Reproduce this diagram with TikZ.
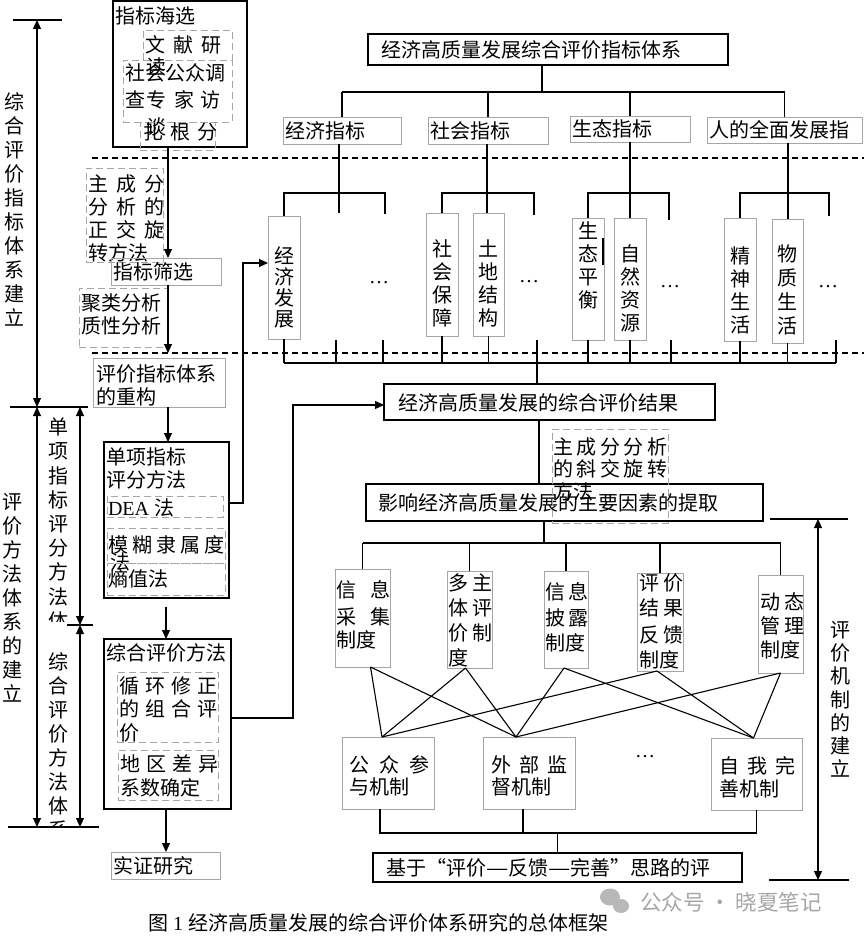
\documentclass[tikz,border=0pt]{standalone}
\usepackage{fontspec}
\setmainfont{Noto Sans CJK SC}
\newfontfamily\tnr{Liberation Serif}
\usetikzlibrary{arrows.meta,fit}
\newcommand{\wdash}{\scalebox{1.25}[1]{—}}
\begin{document}
\begin{tikzpicture}[x=1pt,y=-1pt,
  every node/.style={inner sep=0pt, outer sep=0pt},
  tx/.style={font=\fontsize{20}{24}\selectfont, anchor=west},
  vt/.style={font=\fontsize{20}{#1}\selectfont, align=center, anchor=north},
  vt/.default=23,
  dots/.style={font=\tnr\fontsize{20}{24}\selectfont, anchor=base},
  tbox/.style={draw, line width=1.4pt},
  gbox/.style={draw=black!35, line width=0.8pt},
  dbox/.style={draw=black!35, line width=0.8pt, dash pattern=on 7pt off 4pt},
  ln/.style={line width=1.1pt},
  arr/.style={-{Triangle[length=9pt,width=8pt]}},
  dimarr/.style={line width=1.1pt,{Triangle[length=9pt,width=8pt]}-{Triangle[length=9pt,width=8pt]}},
  sepline/.style={line width=1.1pt, dash pattern=on 6pt off 4pt},
]
\useasboundingbox (0,0) rectangle (864,936);

% ================= left dimension lines
\coordinate (dA) at (37,20);
\coordinate (dB) at (37,407);
\coordinate (dC) at (37,827);
\coordinate (dD) at (80,407);
\coordinate (dE) at (80,625);
\coordinate (dF) at (80,827);
\draw[ln] (13,20) -- (62,20);
\draw[ln] (10,407) -- (88,407);
\draw[ln] (67,625) -- (93,625);
\draw[ln] (8,827) -- (99,827);
\draw[dimarr] (dA) -- (dB);
\draw[dimarr] (dB) -- (dC);
\draw[dimarr] (dD) -- (dE);
\draw[dimarr] (dE) -- (dF);
\node[vt=24] (lab1) at (15,93) {综\\合\\评\\价\\指\\标\\体\\系\\建\\立};
\node[vt=24] (lab2) at (12,493) {评\\价\\方\\法\\体\\系\\的\\建\\立};
\begin{scope}
  \clip (40,409) rectangle (76,621);
  \node[vt=24.2] (lab3) at (58,418) {单\\项\\指\\标\\评\\分\\方\\法\\体\\系};
\end{scope}
\begin{scope}
  \clip (40,628) rectangle (76,825);
  \node[vt=24] (lab4) at (58,653) {综\\合\\评\\价\\方\\法\\体\\系};
\end{scope}

% ================= separators
\draw[sepline] (92,158) -- (864,158);
\draw[sepline] (92,353) -- (864,353);

% ================= left flow
\node[tbox, fit={(113,1)(247,147)}] (sea) {};
\node[tx] (tsea) at (115,16) {指标海选};
\node[dbox, fit={(143,30)(232,60)}] (d1) {};
\node[dbox, fit={(123,60)(232,122)}] (d2) {};
\node[dbox, fit={(140,122)(215,150)}] (d3) {};
\node[tx] (td1) at (145,45) {文\hspace{8pt}献\hspace{8pt}研};
\node[tx] (td1b) at (146,67) {读};
\node[tx] (td2) at (125,73) {社会公众调};
\node[tx] (td2b) at (125,100) {查};
\node[tx] (td3) at (146,100) {专\hspace{8pt}家\hspace{6pt}访};
\node[tx] (td3b) at (146,127) {谈};
\node[tx] (td4) at (143,132) {扎\hspace{7pt}根\hspace{7pt}分};

\node[dbox, fit={(86,168)(163,262)}] (d5) {};
\node[tx] (td5a) at (88,184) {主\hspace{8pt}成\hspace{8pt}分};
\node[tx] (td5b) at (88,207) {分\hspace{8pt}析\hspace{8pt}的};
\node[tx] (td5c) at (88,230) {正\hspace{8pt}交\hspace{8pt}旋};
\node[tx] (td5d) at (88,253) {转方法};
\node[gbox, fit={(111,258)(221,285)}] (screen) {};
\node[tx] (tscreen) at (113,272) {指标筛选};
\node[dbox, fit={(79,288)(167,347)}] (d6) {};
\node[tx] (td6a) at (81,303) {聚类分析};
\node[tx] (td6b) at (81,326) {质性分析};
\node[gbox, fit={(93,358)(225,407)}] (rebuild) {};
\node[tx] (treb1) at (96,374) {评价指标体系};
\node[tx] (treb2) at (96,397) {的重构};

\node[tbox, fit={(104,442)(229,598)}] (single) {};
\node[tx] (tsg1) at (106,457) {单项指标};
\node[tx] (tsg2) at (106,480) {评分方法};
\node[dbox, fit={(107,496)(223,517)}] (dea) {};
\node[tx] (tdea) at (108,508) {{\tnr DEA }法};
\node[dbox, fit={(107,528)(225,563)}] (fuzzy) {};
\node[tx] (tfz) at (108,545) {模\hspace{4pt}糊\hspace{4pt}隶\hspace{4pt}属\hspace{4pt}度};
\node[tx] (tfz2) at (110,562) {法};
\node[dbox, fit={(107,563)(225,595)}] (entropy) {};
\node[tx] (tent) at (108,579) {熵值法};

\node[tbox, fit={(104,639)(231,809)}] (comb) {};
\node[tx] (tcomb) at (106,653) {综合评价方法};
\node[dbox, fit={(117,672)(218,742)}] (cyc) {};
\node[tx] (tcy1) at (119,686) {循\hspace{6pt}环\hspace{6pt}修\hspace{6pt}正};
\node[tx] (tcy2) at (119,709) {的\hspace{6pt}组\hspace{6pt}合\hspace{6pt}评};
\node[tx] (tcy3) at (119,733) {价};
\node[dbox, fit={(118,750)(218,800)}] (reg) {};
\node[tx] (trg1) at (120,764) {地\hspace{6pt}区\hspace{6pt}差\hspace{6pt}异};
\node[tx] (trg2) at (120,788) {系数确定};

\node[gbox, fit={(111,852)(220,879)}] (emp) {};
\node[tx] (temp) at (113,866) {实证研究};

\coordinate (ax) at (168,0);
\coordinate (bx) at (166,0);
\draw[ln,arr] (sea.south -| ax) -- (screen.north -| ax);
\draw[ln,arr,shorten >=5pt] (screen.south -| ax) -- (rebuild.north -| ax);
\draw[ln,arr] (rebuild.south -| ax) -- (single.north -| ax);
\draw[ln,arr,shorten <=9pt] (single.south -| bx) -- (comb.north -| bx);
\draw[ln,arr] (comb.south -| bx) -- (emp.north -| bx);

% ================= right: index system tree
\node[tbox, fit={(368,34)(728,65)}] (title) {};
\node[tx] (ttitle) at (381,50) {经济高质量发展综合评价指标体系};
\node[gbox, fit={(283,117)(401,144)}] (cat1) {};
\node[tx] (tc1) at (285,131) {经济指标};
\node[gbox, fit={(428,117)(548,144)}] (cat2) {};
\node[tx] (tc2) at (430,131) {社会指标};
\node[gbox, fit={(570,116)(690,142)}] (cat3) {};
\node[tx] (tc3) at (572,129) {生态指标};
\node[gbox, fit={(707,117)(862,143)}] (cat4) {};
\node[tx] (tc4) at (709,130) {人的全面发展指};

\coordinate (tb) at (542,92);
\draw[ln] (tb |- title.south) -- (tb);
\draw[ln] (cat1.north |- tb) -- (cat4.north |- tb);
\foreach \c in {cat1,cat2,cat3,cat4} \draw[ln] (\c.north |- tb) -- (\c.north);

% leaves
\node[gbox, fit={(268,216)(300,339)}] (L1) {};
\node[vt=21] (tL1) at (284,247) {经\\济\\发\\展};
\node[gbox, fit={(426,213)(458,336)}] (L2) {};
\node[vt] (tL2) at (442,240) {社\\会\\保\\障};
\node[gbox, fit={(473,213)(504,336)}] (L3) {};
\node[vt] (tL3) at (488.5,240) {土\\地\\结\\构};
\node[gbox, fit={(572,218)(604,340)}] (L4) {};
\node[vt] (tL4) at (588,222) {生\\态\\平\\衡};
\node[gbox, fit={(614,218)(646,340)}] (L5) {};
\node[vt] (tL5) at (630,245) {自\\然\\资\\源};
\node[gbox, fit={(724,218)(756,341)}] (L6) {};
\node[vt] (tL6) at (740,247) {精\\神\\生\\活};
\node[gbox, fit={(772,219)(803,343)}] (L7) {};
\node[vt=24] (tL7) at (787.5,245) {物\\质\\生\\活};
\node[dots] (e1) at (379,283) {…};
\node[dots] (e2) at (529,282) {…};
\node[dots] (e3) at (670,287) {…};
\node[dots] (e4) at (828,287) {…};
\draw[line width=1.4pt] (603,238) -- (603,265);

\coordinate (g1) at (339,193);
\coordinate (g2) at (487,193);
\coordinate (g3) at (630,193);
\coordinate (g4) at (788,193);
\draw[ln] (g1 |- cat1.south) -- (g1) -- (339,213);
\draw[ln] (L1.north) |- (385,193) -- (385,214);
\draw[ln] (g2 |- cat2.south) -- (g2 |- L3.north);
\draw[ln] (L2.north) |- (534,193) -- (534,215);
\draw[ln] (g3 |- cat3.south) -- (g3 |- L5.north);
\draw[ln] (L4.north) |- (669,193) -- (669,220);
\draw[ln] (g4 |- cat4.south) -- (g4 |- L7.north);
\draw[ln] (L6.north) |- (829,193) -- (829,216);

\coordinate (bus) at (0,363);
\draw[ln] (L1.south |- bus) -- (836,363);
\foreach \n in {L1,L2,L3,L4,L5,L6,L7} \draw[ln] (\n.south) -- (\n.south |- bus);
\foreach \x in {336,383,537,671,836} \draw[ln] (\x,340) -- (\x,363);

% ================= result and factors
\node[tbox, fit={(384,384)(715,420)}] (result) {};
\node[tx] (tres) at (398,403) {经济高质量发展的综合评价结果};
\node[tbox, fit={(366,484)(763,521)}] (factor) {};
\node[tx] (tfac) at (378,503) {影响经济高质量发展的主要因素的提取};
\node[dbox, fit={(552,429)(668,523)}] (d7) {};
\node[tx] (td7a) at (553,447) {主\hspace{3.5pt}成\hspace{3.5pt}分\hspace{3.5pt}分\hspace{3.5pt}析};
\node[tx] (td7b) at (553,469) {的\hspace{3.5pt}斜\hspace{3.5pt}交\hspace{3.5pt}旋\hspace{3.5pt}转};
\node[tx] (td7c) at (553,492) {方法};

\coordinate (lb) at (537,363);
\draw[ln] (lb) -- (lb |- result.north);
\coordinate (rf) at (539,0);
\draw[ln] (rf |- result.south) -- (rf |- factor.north);

% feedback connectors
\coordinate (c503) at (0,503);
\coordinate (c263) at (243,263);
\draw[ln,arr] (single.east |- c503) -| (c263) -- (L1.west |- c263);
\coordinate (c718) at (0,718);
\coordinate (c405) at (293,405);
\draw[ln,arr] (comb.east |- c718) -| (c405) -- (result.west |- c405);

% ================= institutions
\node[gbox, fit={(335,569)(390,667)}] (B1) {};
\node[tx] (tB1a) at (336,590) {信\hspace{14pt}息};
\node[tx] (tB1b) at (336,617) {采\hspace{14pt}集};
\node[tx] (tB1c) at (336,640) {制度};
\node[gbox, fit={(447,571)(492,668)}] (B2) {};
\node[tx] (tB2a) at (448,583) {多\hspace{4pt}主};
\node[tx] (tB2b) at (448,608) {体\hspace{4pt}评};
\node[tx] (tB2c) at (448,633) {价\hspace{4pt}制};
\node[tx] (tB2d) at (448,658) {度};
\node[gbox, fit={(544,571)(588,668)}] (B3) {};
\node[tx] (tB3a) at (545,592) {信\hspace{3pt}息};
\node[tx] (tB3b) at (545,618) {披\hspace{3pt}露};
\node[tx] (tB3c) at (545,643) {制度};
\node[gbox, fit={(637,573)(683,671)}] (B4) {};
\node[tx] (tB4a) at (639,583) {评\hspace{4pt}价};
\node[tx] (tB4b) at (639,608) {结\hspace{4pt}果};
\node[tx] (tB4c) at (639,635) {反\hspace{4pt}馈};
\node[tx] (tB4d) at (639,660) {制度};
\node[gbox, fit={(758,575)(803,673)}] (B5) {};
\node[tx] (tB5a) at (760,602) {动\hspace{4pt}态};
\node[tx] (tB5b) at (760,626) {管\hspace{4pt}理};
\node[tx] (tB5c) at (760,650) {制度};

\coordinate (bus2) at (0,543);
\coordinate (fb) at (544,543);
\draw[ln] (fb |- factor.south) -- (fb);
\draw[ln] (B1.north |- bus2) -- (B5.north |- bus2);
\foreach \b in {B1,B2,B3,B4,B5} \draw[ln] (\b.north |- bus2) -- (\b.north);

% ================= mechanisms
\node[gbox, fit={(342,737)(434,809)}] (M1) {};
\node[tx] (tM1a) at (349,765) {公\hspace{10pt}众\hspace{10pt}参};
\node[tx] (tM1b) at (349,787) {与机制};
\node[gbox, fit={(483,737)(575,809)}] (M2) {};
\node[tx] (tM2a) at (491,765) {外\hspace{8pt}部\hspace{8pt}监};
\node[tx] (tM2b) at (491,787) {督机制};
\node[dots] (e5) at (645,757) {…};
\node[gbox, fit={(711,738)(802,810)}] (M3) {};
\node[tx] (tM3a) at (719,766) {自\hspace{8pt}我\hspace{8pt}完};
\node[tx] (tM3b) at (719,789) {善机制};

\coordinate (pA) at ([xshift=8pt]B1.south);
\coordinate (pB) at ([xshift=-4pt]B2.south);
\coordinate (pC) at ([xshift=-2pt]B3.south);
\coordinate (pD) at ([xshift=-3pt]B4.south);
\coordinate (pE) at (B5.south);
\coordinate (pP) at ([xshift=-6pt]M1.north);
\coordinate (pQ) at ([xshift=-13pt]M2.north);
\coordinate (pR) at ([xshift=-3pt]M3.north);
\draw[ln] (pA) -- (pP);
\draw[ln] (pA) -- (pQ);
\draw[ln] (pB) -- (pP);
\draw[ln] (pB) -- (pQ);
\draw[ln] (pC) -- (pQ);
\draw[ln] (pC) -- (pR);
\draw[ln] (pD) -- (pP);
\draw[ln] (pD) -- (pR);
\draw[ln] (pE) -- (pQ);
\draw[ln] (pE) -- (pR);

\node[tbox, fit={(373,853)(742,882)}] (final) {};
\node[tx] (tfin) at (386,868) {基于“评价\wdash 反馈\wdash 完善”思路的评};
\coordinate (bus3) at (0,833);
\coordinate (k1) at ([xshift=-8pt]M1.south);
\coordinate (k2) at ([xshift=-6pt]M2.south);
\coordinate (k3) at (M3.south);
\draw[ln] (k1) -- (k1 |- bus3) -- (k3 |- bus3) -- (k3);
\draw[ln] (k2) -- (k2 |- bus3);
\draw[ln] (final.north |- bus3) -- (final.north);

% ================= right dimension
\coordinate (dG) at (818,519);
\coordinate (dH) at (818,880);
\draw[ln] (770,519) -- (848,519);
\draw[ln] (769,880) -- (849,880);
\draw[dimarr] (dG) -- (dH);
\node[vt=23.3] (lab5) at (840,621) {评\\价\\机\\制\\的\\建\\立};

% ================= watermark and caption
\fill[black!28] (610,897) ellipse (10pt and 8.5pt);
\fill[black!28] (621,906) ellipse (8pt and 7pt);
\node[tx, text=black!35, font=\fontsize{21.5}{24}\selectfont] (wm) at (640,902) {公众号 · 晓夏笔记};
\node[tx, font=\fontsize{20}{24}\selectfont] (cap) at (148,923) {图\hspace{5pt}{\tnr 1}\hspace{5pt}经济高质量发展的综合评价体系研究的总体框架};
\end{tikzpicture}
\end{document}
